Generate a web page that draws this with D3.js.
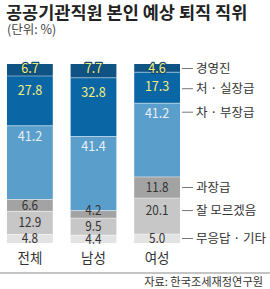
<!DOCTYPE html>
<html><head><meta charset="utf-8">
<script src="https://cdn.jsdelivr.net/npm/d3@7"></script>
<style>
html,body{margin:0;padding:0;background:#fff;}
svg{display:block;}
text{font-family:"Noto Sans CJK KR","Noto Sans",sans-serif;}
</style></head><body>
<script>
const categories = ["전체", "남성", "여성"];
const seriesNames = ["경영진", "처 · 실장급", "차 · 부장급", "과장급", "잘 모르겠음", "무응답 · 기타"];
const executive = [6.7, 7.7, 4.6];
const director = [27.8, 32.8, 17.3];
const deputy = [41.2, 41.4, 41.2];
const manager = [6.6, 4.2, 11.8];
const unknown = [12.9, 9.5, 20.1];
const noAnswer = [4.8, 4.4, 5.0];
const series = [executive, director, deputy, manager, unknown, noAnswer];
const colors = ["#0e5384", "#0b66a6", "#5a9fcb", "#a3a3a3", "#c7c7c7", "#e3e3e3"];
const labelFill = ["#f3ef7a", "#f3ef7a", "#e6eef6", "#333", "#333", "#333"];

const W = 270, H = 289;
const svg = d3.select("body").append("svg").attr("width", W).attr("height", H);

svg.append("text").attr("x", 6).attr("y", 19).attr("font-size", 17.5).attr("font-weight", "bold")
  .attr("fill", "#222").text("공공기관직원 본인 예상 퇴직 직위");
svg.append("text").attr("x", 7).attr("y", 34).attr("font-size", 12.5).attr("fill", "#444").text("(단위: %)");

const x = d3.scaleBand().domain(categories).range([7, 180]).paddingInner(0.28).paddingOuter(0);
const y = d3.scaleLinear().domain([0, 100]).range([243, 64]);

const segs = [];
categories.forEach((c, ci) => {
  let top = 100;
  series.forEach((s, si) => {
    const v = s[ci];
    segs.push({c, ci, si, v, y0: top, y1: top - v});
    top -= v;
  });
});

const g = svg.append("g");
g.selectAll("rect").data(segs).join("rect")
  .attr("x", d => x(d.c)).attr("width", x.bandwidth())
  .attr("y", d => y(d.y0)).attr("height", d => y(d.y1) - y(d.y0))
  .attr("fill", d => colors[d.si]);
g.selectAll("line.sep").data(segs.filter(d => d.si > 0)).join("line")
  .attr("x1", d => x(d.c)).attr("x2", d => x(d.c) + x.bandwidth())
  .attr("y1", d => y(d.y0)).attr("y2", d => y(d.y0))
  .attr("stroke", "#fff").attr("stroke-opacity", 0.45).attr("stroke-width", 1);

function labelBase(d) {
  const t = y(d.y0), h = y(d.y1) - y(d.y0);
  if (d.si === 0) return t + 9;
  if (d.si === 1) return t + 19;
  if (d.si === 2) return t + 15;
  if (h < 7.7) return t + 4.5;
  return t + Math.min(h / 2 + 4.5, 17);
}

g.selectAll("text.val").data(segs).join("text")
  .attr("class", "val")
  .attr("x", d => x(d.c) + x.bandwidth() / 2)
  .attr("y", d => labelBase(d))
  .attr("text-anchor", "middle")
  .attr("font-size", d => d.si < 3 ? 14 : 13)
  .attr("font-family", "'Liberation Sans', Arial, sans-serif")
  .attr("fill", d => labelFill[d.si])
  .attr("stroke", d => d.si === 0 ? "#0d4a76" : "none")
  .attr("stroke-width", d => d.si === 0 ? 2.5 : 0)
  .attr("paint-order", "stroke")
  .attr("stroke-linejoin", "round")
  .attr("transform", function(d){
    const cx = x(d.c) + x.bandwidth() / 2;
    return `translate(${cx},0) scale(0.9,1) translate(${-cx},0)`;
  })
  .text(d => d.v.toFixed(1));

const last = categories[categories.length - 1];
const lx = x(last) + x.bandwidth();
const legendSegs = segs.filter(d => d.c === last);
const legY = d => labelBase(d) - 4.5 + (d.si === 1 ? 2 : 0) + (d.si === 2 ? -1.5 : 0);
const lg = svg.append("g");
lg.selectAll("line").data(legendSegs).join("line")
  .attr("x1", lx + 2).attr("x2", lx + 13)
  .attr("y1", legY).attr("y2", legY)
  .attr("stroke", "#777").attr("stroke-width", 1);
lg.selectAll("text").data(legendSegs).join("text")
  .attr("x", lx + 16)
  .attr("y", legY)
  .attr("dy", "0.36em")
  .attr("font-size", 12.5).attr("fill", "#333")
  .text(d => seriesNames[d.si]);

svg.selectAll("text.cat").data(categories).join("text")
  .attr("class", "cat")
  .attr("x", d => x(d) + x.bandwidth() / 2).attr("y", 263)
  .attr("text-anchor", "middle").attr("font-size", 13.5).attr("fill", "#333")
  .text(d => d);

svg.append("line").attr("x1", 0).attr("x2", W).attr("y1", 273).attr("y2", 273)
  .attr("stroke", "#b0b0b0").attr("stroke-width", 1.5);
svg.append("text").attr("x", 263).attr("y", 286).attr("text-anchor", "end")
  .attr("font-size", 11.2).attr("fill", "#333").text("자료: 한국조세재정연구원");
</script>
</body></html>
